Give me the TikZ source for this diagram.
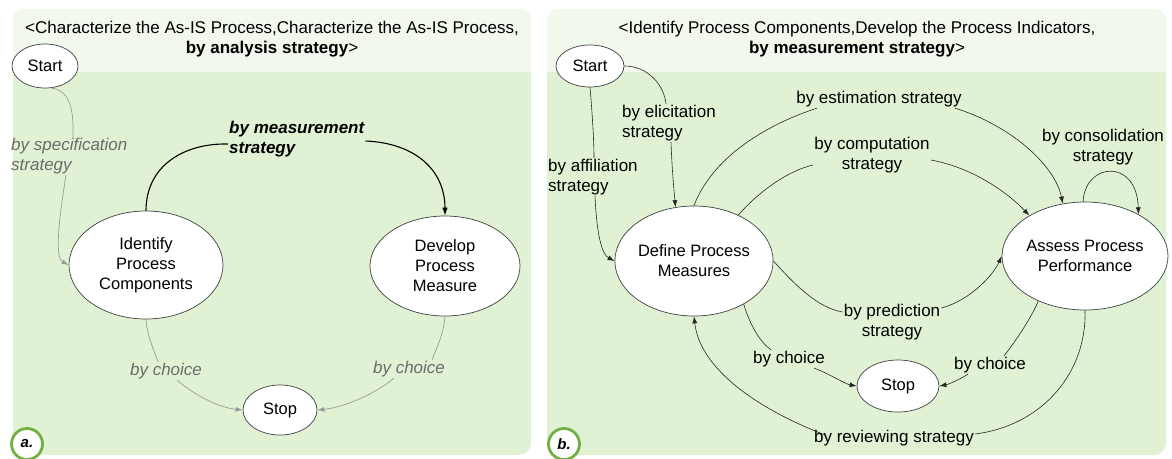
\documentclass[tikz,border=0pt]{standalone}
\usepackage{fontspec}
\setmainfont{Liberation Sans}
\usetikzlibrary{shapes.geometric,arrows.meta,calc}
\definecolor{hdr}{HTML}{F1F8EC}
\definecolor{bgg}{HTML}{E1F2D4}
\definecolor{ringg}{HTML}{72B043}
\definecolor{edgegray}{HTML}{9A9A9A}
\definecolor{labgray}{HTML}{6B6B6B}
\newcommand\myNF{\fontsize{16.5}{20}\selectfont}
\newcommand\myLF{\fontsize{17}{20}\selectfont}
\begin{document}
\begin{tikzpicture}[x=1pt,y=-1pt,
 stnode/.style={ellipse,draw=black!75,fill=white,line width=0.7pt,inner sep=0pt,align=center,font=\myNF},
 lab/.style={inner sep=1pt,align=center,font=\myLF},
 laba/.style={inner sep=1pt,align=center,text=labgray,font=\myLF\itshape},
 edgeb/.style={draw=black!85,line width=0.6pt,-{Latex[length=7pt,width=5pt]}},
 plainb/.style={draw=black!85,line width=0.6pt},
 edgea/.style={draw=edgegray,line width=0.7pt,-{Latex[length=7pt,width=5pt]}},
 plaina/.style={draw=edgegray,line width=0.7pt},
 tag/.style={circle,draw=ringg,line width=2.8pt,fill=white,minimum size=31pt,inner sep=0pt,font=\fontsize{15}{18}\selectfont\bfseries\itshape},
 hdrtext/.style={align=center,font=\myLF,inner sep=0pt}
]
\useasboundingbox (0,0) rectangle (1172,458);
\fill[white] (0,0) rectangle (1172,458);
% panel a
\fill[bgg,rounded corners=12pt] (13,9) rectangle (531,455);
\begin{scope}
\clip[rounded corners=12pt] (13,9) rectangle (531,455);
\fill[hdr] (13,9) rectangle (531,72);
\end{scope}
% panel b
\fill[bgg,rounded corners=12pt] (547,9) rectangle (1166,455);
\begin{scope}
\clip[rounded corners=12pt] (547,9) rectangle (1166,455);
\fill[hdr] (547,9) rectangle (1166,72);
\end{scope}

\node[hdrtext] (hdra) at (272,39) {<Characterize the As-IS Process,Characterize the As-IS Process,\\\textbf{by analysis strategy}>};
\node[hdrtext] (hdrb) at (857,39) {<Identify Process Components,Develop the Process Indicators,\\\textbf{by measurement strategy}>};

% ---- panel a nodes
\node[stnode,minimum width=66pt,minimum height=44pt] (starta) at (45,66) {Start};
\node[stnode,minimum width=154pt,minimum height=108pt] (ident) at (146,265) {Identify\\Process\\Components};
\node[stnode,minimum width=150pt,minimum height=100pt] (devel) at (445,266) {Develop\\Process\\Measure};
\node[stnode,minimum width=74pt,minimum height=50pt] (stopa) at (280,410) {Stop};

\node[laba,anchor=west,align=left] (spec) at (10,156) {by specification\\strategy};
\node[lab,font=\myLF\bfseries\itshape,anchor=west,align=left] (meas) at (228,139) {by measurement\\strategy};
\node[laba] (chA1) at (166,371) {by choice};
\node[laba] (chA2) at (409,369) {by choice};

\draw[plaina] (starta.-75) .. controls (68,90) and (74,105) .. ([xshift=63pt]spec.north west);
\draw[edgea] ([xshift=56pt]spec.south west) .. controls (58,225) and (55,258) .. (ident.west);
\draw[line width=1.1pt,black] (ident.north) .. controls (146,165) and (185,143) .. ([yshift=-5pt]meas.west);
\draw[line width=1.1pt,black,-{Latex[length=8pt,width=5.5pt]}] ([yshift=-2pt]meas.east) .. controls (415,143) and (445,170) .. (devel.north);
\draw[plaina] (ident.south) .. controls (147,335) and (152,345) .. ([xshift=-8pt]chA1.north);
\draw[edgea] ([xshift=11pt]chA1.south) .. controls (198,398) and (222,408) .. (stopa.west);
\draw[plaina] (devel.south) .. controls (444,332) and (438,345) .. ([xshift=23pt]chA2.north);
\draw[edgea] ([xshift=-15pt]chA2.south) .. controls (370,398) and (338,408) .. (stopa.east);

\node[tag] (taga) at (27,444) {a.};

% ---- panel b nodes
\node[stnode,minimum width=68pt,minimum height=42pt] (startb) at (590,66) {Start};
\node[stnode,minimum width=152pt,minimum height=110pt] (defn) at (694,261) {Define Process\\Measures};
\node[stnode,minimum width=144pt,minimum height=108pt] (assess) at (1085,256) {Assess Process\\Performance};
\node[stnode,minimum width=82pt,minimum height=52pt] (stopb) at (898,386) {Stop};

\node[lab,anchor=west,align=left] (elic) at (621,123) {by elicitation\\strategy};
\node[lab,anchor=west,align=left] (affil) at (547,177) {by affiliation\\strategy};
\node[lab] (estim) at (879,99) {by estimation strategy};
\node[lab] (comp) at (872,155) {by computation\\strategy};
\node[lab] (consol) at (1103,147) {by consolidation\\strategy};
\node[lab] (pred) at (892,322) {by prediction\\strategy};
\node[lab] (chB1) at (789,359) {by choice};
\node[lab] (chB2) at (990,365) {by choice};
\node[lab] (review) at (894,438) {by reviewing strategy};

\draw[plainb] (startb.east) .. controls (648,66) and (664,85) .. ([xshift=45pt]elic.north west);
\draw[edgeb] ([xshift=50pt]elic.south west) .. controls (672,170) and (674,190) .. (defn.109);
\draw[plainb] (startb.south) .. controls (592,110) and (594,140) .. ([xshift=47pt]affil.north west);
\draw[edgeb] ([xshift=48pt]affil.south west) .. controls (597,240) and (603,255) .. (defn.west);
\draw[plainb] (defn.north) .. controls (712,158) and (765,125) .. ([xshift=22pt]estim.south west);
\draw[edgeb] ([xshift=-8pt]estim.south east) .. controls (1010,125) and (1055,165) .. (assess.113);
\draw[plainb] (defn.46) .. controls (760,190) and (790,170) .. ([yshift=-10pt]comp.west);
\draw[edgeb] ([yshift=-5pt]comp.east) .. controls (975,168) and (1010,195) .. (assess.144);
\draw[edgeb] (assess.92) .. controls (1085,162) and (1137,158) .. (assess.38);
\draw[plainb] (defn.east) .. controls (795,285) and (818,308) .. ([yshift=10pt]pred.west);
\draw[edgeb] ([yshift=14pt]pred.east) .. controls (972,300) and (995,272) .. (assess.west);
\draw[plainb] (defn.-41) .. controls (750,325) and (760,342) .. ([xshift=-18pt]chB1.north);
\draw[edgeb] ([xshift=25pt]chB1.south) .. controls (830,374) and (845,384) .. (stopb.west);
\draw[plainb] (assess.-136) .. controls (1030,320) and (1015,342) .. ([xshift=14pt]chB2.north);
\draw[edgeb] ([xshift=-22pt]chB2.south) .. controls (962,378) and (950,384) .. (stopb.east);
\draw[plainb] (assess.south) .. controls (1087,370) and (1045,425) .. ([yshift=4pt]review.east);
\draw[edgeb] ([xshift=12pt,yshift=-6pt]review.north west) .. controls (760,410) and (700,370) .. (defn.south);

\node[tag] (tagb) at (564,444) {b.};
\end{tikzpicture}
\end{document}
